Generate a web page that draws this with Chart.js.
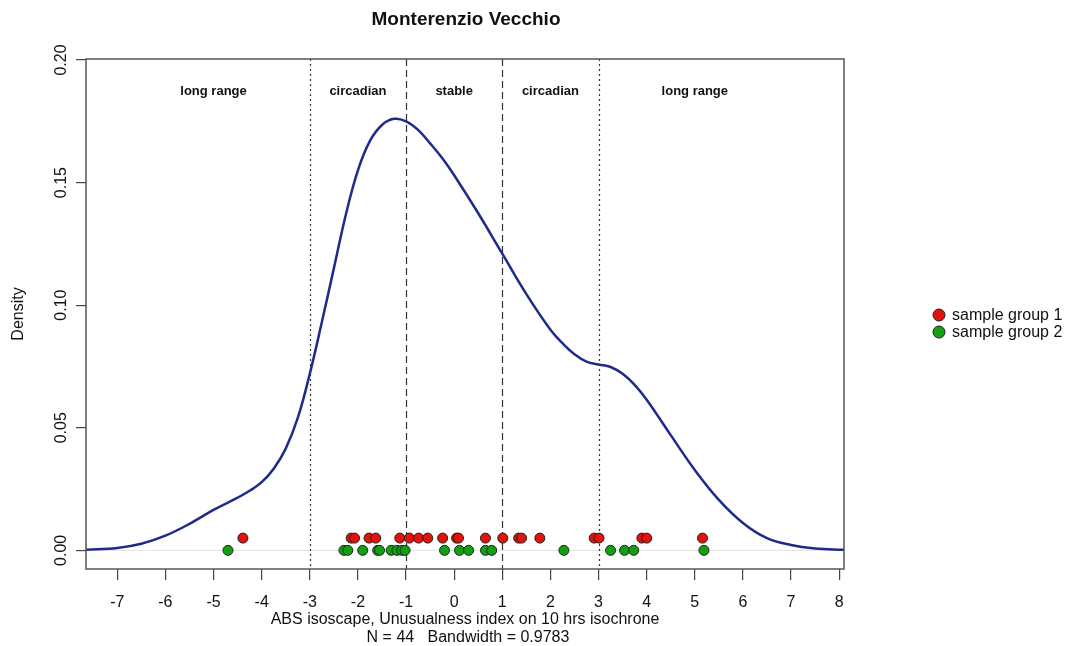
<!DOCTYPE html>
<html>
<head>
<meta charset="utf-8">
<title>Monterenzio Vecchio</title>
<script src="https://cdn.jsdelivr.net/npm/chart.js@4.4.1/dist/chart.umd.min.js"></script>
<style>
    html, body { margin: 0; padding: 0; background: #ffffff; }
    #wrap { width: 1067px; height: 646px; }
</style>
</head>
<body>
<div id="wrap"><canvas id="densityChart" width="1067" height="646"></canvas></div>
<script>
// kernel density estimate (x, density)
var curveX = [-7.65, -7.0, -6.5, -6.0, -5.5, -5.0, -4.5, -4.25, -4.0, -3.75, -3.5, -3.25, -3.0, -2.75, -2.5,
    -2.25, -2.0, -1.75, -1.5, -1.25, -1.0, -0.75, -0.5, -0.25, 0.0, 0.5, 1.0, 1.5, 2.0, 2.25, 2.5, 2.75, 3.0,
    3.25, 3.5, 3.75, 4.0, 4.5, 5.0, 5.5, 6.0, 6.5, 7.0, 7.5, 8.1];
var curveY = [0.0003, 0.0010, 0.0027, 0.0060, 0.0108, 0.0165, 0.0215, 0.0243, 0.0278, 0.0333, 0.0415, 0.0540,
    0.0720, 0.0930, 0.1150, 0.1370, 0.1550, 0.1670, 0.1735, 0.1760, 0.1750, 0.1715, 0.1660, 0.1600, 0.1530,
    0.1375, 0.1210, 0.1045, 0.0900, 0.0845, 0.0800, 0.0770, 0.0758, 0.0748, 0.0720, 0.0675, 0.0614, 0.0470,
    0.0328, 0.0206, 0.0112, 0.0050, 0.0022, 0.0008, 0.0002];

// observations of each group (rug rows)
var group1 = [-4.39, -2.14, -2.07, -1.77, -1.63, -1.13, -0.93, -0.74, -0.55, -0.24, 0.05, 0.09, 0.65, 1.01,
    1.34, 1.40, 1.78, 2.91, 3.01, 3.90, 4.00, 5.16];
var group2 = [-4.70, -2.29, -2.21, -1.90, -1.59, -1.55, -1.31, -1.19, -1.09, -1.02, -0.20, 0.11, 0.30, 0.65,
    0.78, 2.28, 3.25, 3.54, 3.73, 5.19];
var group1Row = 0.005;
var group2Row = 0;

var groupNames = ['sample group 1', 'sample group 2'];
var groupColors = ['#e3120b', '#12a012'];

// range boundaries and labels
var cutDotted = [-3, 3];
var cutDashed = [-1, 1];
var rangeNames = ['long range', 'circadian', 'stable', 'circadian', 'long range'];
var rangeCenters = [-5, -2, 0, 2, 5];

var xTicks = [-7, -6, -5, -4, -3, -2, -1, 0, 1, 2, 3, 4, 5, 6, 7, 8];
var yTicks = [0, 0.05, 0.10, 0.15, 0.20];

var FONT = '"Liberation Sans", Arial, Helvetica, sans-serif';

function toPoints(xs, ys) {
    return xs.map(function (x, i) { return { x: x, y: ys[i] }; });
}
function rowPoints(xs, y) {
    return xs.map(function (x) { return { x: x, y: y }; });
}

// box, zero line, range lines and all the loose text
var decorations = {
    id: 'decorations',
    beforeDatasetsDraw: function (chart) {
        var ctx = chart.ctx, a = chart.chartArea;
        var xs = chart.scales.x, ys = chart.scales.y;
        ctx.save();
        // zero line
        ctx.strokeStyle = '#e2e2e2';
        ctx.lineWidth = 1;
        ctx.beginPath();
        ctx.moveTo(a.left, ys.getPixelForValue(0));
        ctx.lineTo(a.right, ys.getPixelForValue(0));
        ctx.stroke();
        // range cut lines
        ctx.strokeStyle = '#333333';
        ctx.lineWidth = 1.2;
        ctx.setLineDash([2, 3]);
        cutDotted.forEach(function (v) {
            var px = Math.round(xs.getPixelForValue(v)) + 0.5;
            ctx.beginPath(); ctx.moveTo(px, a.top); ctx.lineTo(px, a.bottom); ctx.stroke();
        });
        ctx.setLineDash([7, 4]);
        cutDashed.forEach(function (v) {
            var px = Math.round(xs.getPixelForValue(v)) + 0.5;
            ctx.beginPath(); ctx.moveTo(px, a.top); ctx.lineTo(px, a.bottom); ctx.stroke();
        });
        ctx.setLineDash([]);
        ctx.restore();
    },
    afterDraw: function (chart) {
        var ctx = chart.ctx, a = chart.chartArea;
        var xs = chart.scales.x, ys = chart.scales.y;
        ctx.save();
        // plot box
        ctx.strokeStyle = '#555555';
        ctx.lineWidth = 1.5;
        ctx.strokeRect(a.left, a.top, a.right - a.left, a.bottom - a.top);

        ctx.fillStyle = '#111111';
        ctx.textAlign = 'center';
        ctx.textBaseline = 'middle';

        // title
        ctx.font = 'bold 19px ' + FONT;
        ctx.fillText('Monterenzio Vecchio', 466, 20);

        // range labels
        ctx.font = 'bold 13px ' + FONT;
        rangeNames.forEach(function (name, i) {
            ctx.fillText(name, xs.getPixelForValue(rangeCenters[i]), 91);
        });

        // y tick labels, read upwards like the axis title
        ctx.font = '16px ' + FONT;
        yTicks.forEach(function (v) {
            ctx.save();
            ctx.translate(62, ys.getPixelForValue(v));
            ctx.rotate(-Math.PI / 2);
            ctx.fillText(v.toFixed(2), 0, 0);
            ctx.restore();
        });

        // axis titles
        ctx.fillText('ABS isoscape, Unusualness index on 10 hrs isochrone', 465, 620);
        ctx.fillText('N = 44   Bandwidth = 0.9783', 468, 638);
        ctx.save();
        ctx.translate(19, 314);
        ctx.rotate(-Math.PI / 2);
        ctx.fillText('Density', 0, 0);
        ctx.restore();

        // legend
        ctx.textAlign = 'left';
        groupNames.forEach(function (name, i) {
            var cy = 315 + i * 17;
            ctx.beginPath();
            ctx.arc(939, cy, 6, 0, Math.PI * 2);
            ctx.fillStyle = groupColors[i];
            ctx.fill();
            ctx.strokeStyle = '#222222';
            ctx.lineWidth = 1;
            ctx.stroke();
            ctx.fillStyle = '#111111';
            ctx.fillText(name, 952, cy + 1);
        });
        ctx.restore();
    }
};

document.addEventListener('DOMContentLoaded', function () {
    var ctx = document.getElementById('densityChart').getContext('2d');
    new Chart(ctx, {
        type: 'scatter',
        data: {
            datasets: [{
                label: 'density',
                data: toPoints(curveX, curveY),
                showLine: true,
                borderColor: '#1f2a8a',
                borderWidth: 2.5,
                pointRadius: 0,
                tension: 0.4,
                order: 2
            }, {
                label: groupNames[0],
                data: rowPoints(group1, group1Row),
                backgroundColor: groupColors[0],
                borderColor: '#222222',
                borderWidth: 1,
                pointRadius: 5,
                order: 1
            }, {
                label: groupNames[1],
                data: rowPoints(group2, group2Row),
                backgroundColor: groupColors[1],
                borderColor: '#222222',
                borderWidth: 1,
                pointRadius: 5,
                order: 1
            }]
        },
        options: {
            responsive: false,
            animation: false,
            layout: { padding: { top: 59, right: 223, bottom: 0, left: 0 } },
            plugins: {
                legend: { display: false },
                tooltip: { enabled: false }
            },
            scales: {
                x: {
                    type: 'linear',
                    min: -7.65,
                    max: 8.1,
                    afterBuildTicks: function (scale) {
                        scale.ticks = xTicks.map(function (v) { return { value: v }; });
                    },
                    afterFit: function (scale) { scale.height = 77; },
                    grid: { drawOnChartArea: false, tickLength: 11, color: '#444444', lineWidth: 1.2 },
                    border: { display: false },
                    ticks: {
                        color: '#111111',
                        font: { family: FONT, size: 16 },
                        padding: 13,
                        maxRotation: 0,
                        autoSkip: false
                    }
                },
                y: {
                    type: 'linear',
                    min: -0.0076,
                    max: 0.2004,
                    afterBuildTicks: function (scale) {
                        scale.ticks = yTicks.map(function (v) { return { value: v }; });
                    },
                    afterFit: function (scale) { scale.width = 86; },
                    grid: { drawOnChartArea: false, tickLength: 10, color: '#444444', lineWidth: 1.2 },
                    border: { display: false },
                    ticks: { display: false }
                }
            }
        },
        plugins: [decorations]
    });
});
</script>
</body>
</html>
